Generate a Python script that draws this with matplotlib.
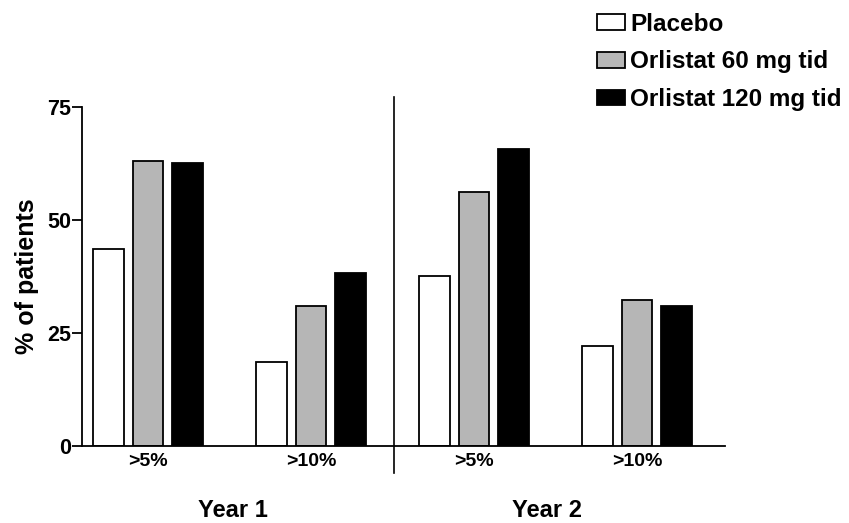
import matplotlib.pyplot as plt
from matplotlib.patches import Patch

plt.rcParams['font.family'] = ['Liberation Sans', 'DejaVu Sans']

# Data
groups = [">5%", ">10%", ">5%", ">10%"]
years = ["Year 1", "Year 2"]
placebo = [43.5, 18.6, 37.6, 22.0]
orlistat_60 = [63.1, 31.0, 56.1, 32.2]
orlistat_120 = [62.5, 38.3, 65.6, 30.9]
series_names = ["Placebo", "Orlistat 60 mg tid", "Orlistat 120 mg tid"]
colors = ["white", "#b6b6b6", "black"]

fig = plt.figure(figsize=(8.49, 5.23), dpi=100)
ax = fig.add_axes([82 / 849, 77 / 523, 643 / 849, 339.3 / 523])

x = range(len(groups))
width = 0.19
offsets = [-0.245, 0, 0.245]
for vals, off, c in zip([placebo, orlistat_60, orlistat_120], offsets, colors):
    ax.bar([i + off for i in x], vals, width, color=c, edgecolor="black", linewidth=1.3)

ax.set_xlim(-0.405, 3.54)
ax.set_ylim(0, 75)
ax.set_yticks([0, 25, 50, 75])
ax.set_xticks(list(x))
ax.set_xticklabels(groups, fontsize=14, fontweight="bold")
ax.tick_params(axis="x", length=0, pad=5)
ax.tick_params(axis="y", length=7, width=1.3, labelsize=15.5, pad=1)
for lab in ax.get_yticklabels():
    lab.set_fontweight("bold")
ax.spines["top"].set_visible(False)
ax.spines["right"].set_visible(False)
ax.spines["left"].set_linewidth(1.3)
ax.spines["bottom"].set_linewidth(1.3)
ax.set_ylabel("% of patients", fontsize=18, fontweight="bold", labelpad=6)

# divider between years
ax.plot([1.51, 1.51], [77.2, -6.0], color="black", lw=1.2, clip_on=False)

# year labels
for xc, yl in zip([0.52, 2.45], years):
    ax.text(xc, -14.2, yl, ha="center", va="center", fontsize=17, fontweight="bold")

handles = [Patch(facecolor=c, edgecolor="black", linewidth=1.3) for c in colors]
fig.legend(handles, series_names, loc="upper left",
           bbox_to_anchor=(592 / 849, 1 - 8 / 523), frameon=False,
           prop={"size": 17.5, "weight": "bold"}, handlelength=1.15,
           handleheight=0.62, handletextpad=0.22, labelspacing=0.6,
           borderaxespad=0, borderpad=0.2)

fig.savefig("out.png", dpi=100)
